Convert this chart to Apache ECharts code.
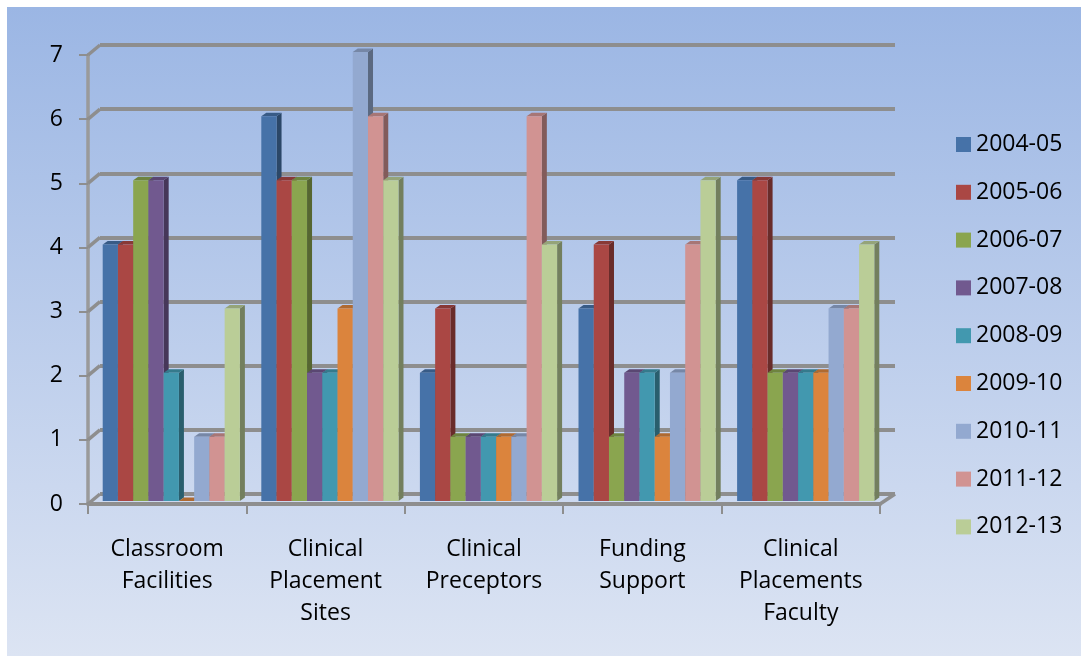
<!DOCTYPE html>
<html>
<head>
<meta charset="utf-8">
<script src="https://cdn.jsdelivr.net/npm/echarts@6/dist/echarts.min.js"></script>
<style>
  html, body { margin: 0; padding: 0; background: #ffffff; }
  #chart { width: 1081px; height: 656px; }
</style>
</head>
<body>
<div id="chart"></div>
<script>
// Categories along the x axis
const categories = [
  'Classroom\nFacilities',
  'Clinical\nPlacement\nSites',
  'Clinical\nPreceptors',
  'Funding\nSupport',
  'Clinical\nPlacements\nFaculty'
];

// Academic years (one series each)
const years = ['2004-05', '2005-06', '2006-07', '2007-08', '2008-09', '2009-10', '2010-11', '2011-12', '2012-13'];

// Values per year, in category order
const y2004_05 = [4, 6, 2, 3, 5];
const y2005_06 = [4, 5, 3, 4, 5];
const y2006_07 = [5, 5, 1, 1, 2];
const y2007_08 = [5, 2, 1, 2, 2];
const y2008_09 = [2, 2, 1, 2, 2];
const y2009_10 = [0, 3, 1, 1, 2];
const y2010_11 = [1, 7, 1, 2, 3];
const y2011_12 = [1, 6, 6, 4, 3];
const y2012_13 = [3, 5, 4, 5, 4];

// Value axis ticks
const yTicks = [0, 1, 2, 3, 4, 5, 6, 7];

const seriesValues = [y2004_05, y2005_06, y2006_07, y2007_08, y2008_09, y2009_10, y2010_11, y2011_12, y2012_13];

const faceColors = ['#4672A8', '#AA4744', '#8AA54F', '#71598F', '#4298AF', '#DB843D', '#93A9D0', '#D19392', '#BACD97'];

function shade(hex, f) {
  const n = parseInt(hex.slice(1), 16);
  const r = Math.round(((n >> 16) & 255) * f);
  const g = Math.round(((n >> 8) & 255) * f);
  const b = Math.round((n & 255) * f);
  return 'rgb(' + r + ',' + g + ',' + b + ')';
}

const FONT = '"Open Sans"';
const FONT_SIZE = 23;
const GRID_GREY = '#8E8E8E';

// Draws one pseudo-3D column: front face, right side and top
function columnRenderer(k, color) {
  const side = shade(color, 0.62);
  const top = shade(color, 0.8);
  return function (params, api) {
    const c = api.value(0);
    const v = api.value(1);
    const base = api.coord([c, 0]);
    const tip = api.coord([c, v]);
    const band = api.size([1, 0])[0];
    const bw = band * 0.865 / years.length;
    const x = base[0] - bw * years.length / 2 + k * bw;
    const yb = base[1];
    const yt = tip[1];
    const dx = 5, dy = 3.5;
    return {
      type: 'group',
      children: [
        { type: 'polygon', shape: { points: [[x + bw, yt], [x + bw + dx, yt - dy], [x + bw + dx, yb - dy], [x + bw, yb]] }, style: { fill: side } },
        { type: 'polygon', shape: { points: [[x, yt], [x + dx, yt - dy], [x + bw + dx, yt - dy], [x + bw, yt]] }, style: { fill: top } },
        { type: 'rect', shape: { x: x, y: yt, width: bw, height: yb - yt }, style: { fill: color } }
      ]
    };
  };
}

const barSeries = years.map(function (name, k) {
  return {
    name: name,
    type: 'custom',
    xAxisIndex: 2,
    yAxisIndex: 2,
    encode: { x: 0, y: 1 },
    itemStyle: { color: faceColors[k] },
    renderItem: columnRenderer(k, faceColors[k]),
    data: seriesValues[k].map(function (v, i) { return [i, v]; }),
    z: 10
  };
});

// Left wall edges joining the front axis ticks to the back wall gridlines
const wallEdges = {
  type: 'custom',
  xAxisIndex: 1,
  yAxisIndex: 1,
  silent: true,
  z: 3,
  renderItem: function (params, api) {
    const v = api.value(0);
    const p = api.coord([0, v]);
    const children = [{
      type: 'line',
      shape: { x1: p[0], y1: p[1], x2: p[0] - 12, y2: p[1] + 10 },
      style: { stroke: GRID_GREY, lineWidth: 3.5 }
    }];
    if (v === 0) {
      const q = api.coord([1, 0]);
      children.push({
        type: 'line',
        shape: { x1: q[0], y1: q[1], x2: q[0] - 15, y2: q[1] + 10 },
        style: { stroke: GRID_GREY, lineWidth: 3.5 }
      });
    }
    return { type: 'group', children: children };
  },
  encode: { y: 0 },
  data: yTicks.map(function (t) { return [t]; })
};

const chart = echarts.init(document.getElementById('chart'), null, { renderer: 'canvas' });

chart.setOption({
  animation: false,
  backgroundColor: '#ffffff',
  graphic: [{
    type: 'rect',
    left: 7, top: 7,
    shape: { width: 1074, height: 649 },
    z: -100,
    silent: true,
    style: {
      fill: new echarts.graphic.LinearGradient(0, 0, 0, 1, [
        { offset: 0, color: '#9BB6E4' },
        { offset: 1, color: '#DCE4F3' }
      ])
    }
  }],
  textStyle: { fontFamily: FONT },
  legend: {
    orient: 'vertical',
    left: 951,
    top: 128,
    itemWidth: 15,
    itemHeight: 15,
    itemGap: 24.8,
    icon: 'rect',
    data: years,
    textStyle: { fontFamily: FONT, fontSize: FONT_SIZE, color: '#000', lineHeight: 22 }
  },
  grid: [
    { left: 88, right: 201, top: 55, bottom: 152 },   // front plane: axes and labels
    { left: 100, right: 186, top: 45, bottom: 162 },  // back wall: gridlines
    { left: 92, right: 196, top: 52, bottom: 155 }    // column plane
  ],
  xAxis: [
    {
      gridIndex: 0,
      type: 'category',
      data: categories,
      axisLine: { lineStyle: { color: '#8E8E8E', width: 4 } },
      axisTick: { show: true, length: 10, lineStyle: { color: '#8E8E8E', width: 2 } },
      axisLabel: { fontFamily: FONT, fontSize: FONT_SIZE, color: '#000', lineHeight: 32, margin: 29, interval: 0 },
      splitLine: { show: false }
    },
    { gridIndex: 1, type: 'value', min: 0, max: 1, show: false },
    { gridIndex: 2, type: 'category', data: categories, show: false }
  ],
  yAxis: [
    {
      gridIndex: 0,
      type: 'value',
      min: 0, max: 7, interval: 1,
      axisLine: { show: true, lineStyle: { color: '#9A9A9A', width: 3.5 } },
      axisTick: { show: true, length: 9, lineStyle: { color: '#8E8E8E', width: 2 } },
      axisLabel: { fontFamily: FONT, fontSize: FONT_SIZE, color: '#000', margin: 25 },
      splitLine: { show: false }
    },
    {
      gridIndex: 1,
      type: 'value',
      min: 0, max: 7, interval: 1,
      axisLine: { show: false },
      axisTick: { show: false },
      axisLabel: { show: false },
      splitLine: { show: true, lineStyle: { color: GRID_GREY, width: 4 } }
    },
    { gridIndex: 2, type: 'value', min: 0, max: 7, interval: 1, show: false, splitLine: { show: false } }
  ],
  series: [wallEdges].concat(barSeries)
});
</script>
</body>
</html>
